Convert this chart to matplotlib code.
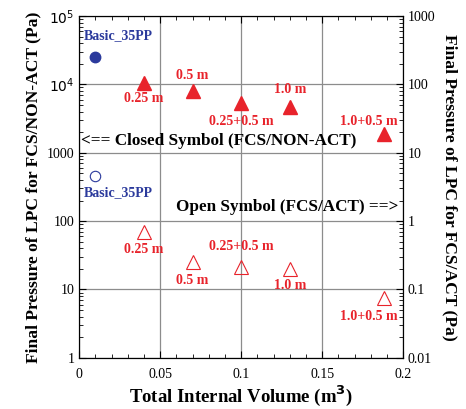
import numpy as np
import matplotlib
matplotlib.use("Agg")
import matplotlib.pyplot as plt
from matplotlib.ticker import LogLocator, NullFormatter, FixedLocator

plt.rcParams["font.family"] = ["Liberation Serif", "DejaVu Serif"]

# closed symbols (FCS/NON-ACT), left axis
basic_x = 0.01
basic_closed = 2.5e4
basic_open = 4.6           # right axis (FCS/ACT)

vol = [0.04, 0.07, 0.1, 0.13, 0.188]
labels = ["0.25 m", "0.5 m", "0.25+0.5 m", "1.0 m", "1.0+0.5 m"]
p_nonact = [1.05e4, 7.9e3, 5.4e3, 4.7e3, 1.85e3]
# open symbols (FCS/ACT), right axis
p_act = [0.69, 0.25, 0.21, 0.2, 0.075]

RED = "#e8232b"
BLUE = "#2b3a9c"

fig = plt.figure(figsize=(4.66, 4.09), dpi=100)
ax = fig.add_axes([0.17, 0.125, 0.695, 0.836])
ax2 = ax.twinx()

ax.set_xlim(0, 0.2)
ax.set_yscale("log")
ax.set_ylim(1, 1e5)
ax2.set_yscale("log")
ax2.set_ylim(0.01, 1000)

ax.grid(True, which="major", color="#8c8c8c", lw=0.9)
ax.set_axisbelow(True)

# closed
ax.plot(basic_x, basic_closed, "o", color=BLUE, ms=7.5)
ax.plot(vol, p_nonact, "^", color=RED, ms=10, ls="none")
# open
ax2.plot(basic_x, basic_open, "o", mfc="none", mec=BLUE, ms=7.5, mew=0.8)
ax2.plot(vol, p_act, "^", mfc="none", mec=RED, ms=10, mew=0.8, ls="none")

tk = dict(color=RED, fontsize=10, fontweight="bold", ha="center", va="center")
ax.text(0.003, 5.2e4, "Basic_35PP", color=BLUE, fontsize=10,
        fontweight="bold", ha="left", va="center")
ax2.text(0.003, 2.6, "Basic_35PP", color=BLUE, fontsize=10,
         fontweight="bold", ha="left", va="center")

# labels for closed points
ax.text(vol[0], 6.2e3, labels[0], **tk)
ax.text(vol[1], 1.35e4, labels[1], **tk)
ax.text(vol[2], 2.9e3, labels[2], **tk)
ax.text(vol[3], 8.3e3, labels[3], **tk)
ax.text(vol[4] - 0.009, 2.9e3, labels[4], **tk)

# labels for open points
ax2.text(vol[0], 0.38, labels[0], **tk)
ax2.text(vol[1], 0.135, labels[1], **tk)
ax2.text(vol[2], 0.43, labels[2], **tk)
ax2.text(vol[3], 0.115, labels[3], **tk)
ax2.text(vol[4] - 0.009, 0.04, labels[4], **tk)

ax.text(0.001, 1500, "<== Closed Symbol (FCS/NON-ACT)", fontsize=12.3,
        fontweight="bold", ha="left", va="center")
ax.text(0.197, 160, "Open Symbol (FCS/ACT) ==>", fontsize=12.3,
        fontweight="bold", ha="right", va="center")

# ticks
ax.set_xticks([0, 0.05, 0.1, 0.15, 0.2])
ax.set_xticklabels(["0", "0.05", "0.1", "0.15", "0.2"])
ax.xaxis.set_minor_locator(FixedLocator(np.arange(0, 0.2001, 0.01)))
ax.tick_params(axis="x", which="both", direction="in", top=True)
ax.tick_params(axis="x", which="major", length=5, labelsize=10, pad=7)
ax.tick_params(axis="x", which="minor", length=3)

ax.set_yticks([1, 10, 100, 1000, 1e4, 1e5])
ax.set_yticklabels(["1", "10", "100", "1000", r"$10^4$", r"$10^5$"])
ax.yaxis.set_minor_locator(LogLocator(base=10, subs=np.arange(2, 10)))
ax.yaxis.set_minor_formatter(NullFormatter())
ax.tick_params(axis="y", which="both", direction="in", labelsize=10)
ax.tick_params(axis="y", which="major", length=5)
ax.tick_params(axis="y", which="minor", length=3)

ax2.set_yticks([0.01, 0.1, 1, 10, 100, 1000])
ax2.set_yticklabels(["0.01", "0.1", "1", "10", "100", "1000"])
ax2.yaxis.set_minor_locator(LogLocator(base=10, subs=np.arange(2, 10)))
ax2.yaxis.set_minor_formatter(NullFormatter())
ax2.tick_params(axis="y", which="both", direction="in", labelsize=10)
ax2.tick_params(axis="y", which="major", length=5)
ax2.tick_params(axis="y", which="minor", length=3)

ax.set_xlabel("Total Internal Volume (m$^\\mathbf{3}$)", fontsize=13.5,
              fontweight="bold", labelpad=2)
ax.set_ylabel("Final Pressure of LPC for FCS/NON-ACT (Pa)", fontsize=12.6,
              fontweight="bold")
ax2.set_ylabel("Final Pressure of LPC for FCS/ACT (Pa)", fontsize=12.6,
               fontweight="bold", rotation=270, labelpad=16)

fig.savefig("out.png", dpi=100)
